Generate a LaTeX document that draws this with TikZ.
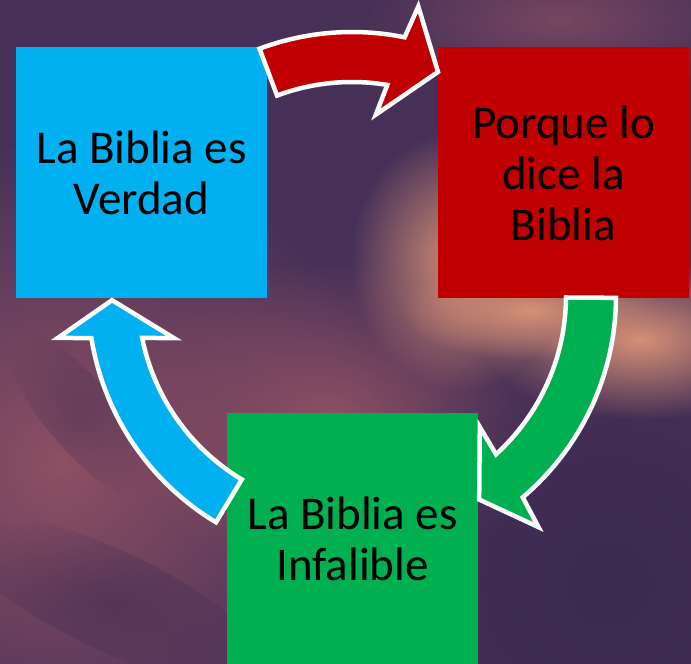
\documentclass[tikz,border=0pt]{standalone}
\usepackage{fontspec}
\setmainfont{Carlito}
\usetikzlibrary{fadings}

\definecolor{verdadblue}{RGB}{0,176,240}
\definecolor{bibliared}{RGB}{192,0,0}
\definecolor{infalgreen}{RGB}{0,176,80}
\definecolor{skydark}{RGB}{70,48,88}
\definecolor{skydeep}{RGB}{60,42,80}
\definecolor{skymauve}{RGB}{142,80,100}
\definecolor{skypeach}{RGB}{214,144,118}

\tikzfading[name=softblob, inner color=transparent!0, outer color=transparent!100]

\tikzset{
  box/.style={minimum width=251pt, minimum height=251pt, inner sep=0pt,
    align=center, font=\fontsize{47}{51}\selectfont},
  cyclearrow/.style={draw=white, line width=4.5pt, line join=miter},
  blob/.style={path fading=softblob},
}

\begin{document}
\begin{tikzpicture}[x=1pt, y=1pt]
    \clip (0,0) rectangle (691,664);

    % cloudy background
    \fill[skydark] (0,0) rectangle (691,664);
    \fill[skymauve, blob] (60,200) ellipse (330 and 330);
    \fill[skymauve, blob] (330,244) ellipse (220 and 160);
    \fill[skymauve, blob, opacity=0.7] (560,644) ellipse (200 and 80);
    \fill[skydeep, blob] (610,80) ellipse (260 and 260);
    \fill[skydeep, blob, opacity=0.5, rotate around={-25:(110,64)}] (110,64) ellipse (170 and 50);
    \fill[skydeep, blob, opacity=0.4, rotate around={-50:(80,250)}] (80,250) ellipse (110 and 35);
    \fill[skypeach, blob] (460,404) ellipse (110 and 130);
    \fill[skypeach, blob] (640,324) ellipse (160 and 80);
    \fill[skypeach, blob] (530,354) ellipse (130 and 50);

    % boxes
    \node[box, fill=verdadblue] (verdad) at (141.5,491) {La Biblia es\\Verdad};
    \node[box, fill=bibliared] (dice) at (563.5,491) {Porque lo\\dice la\\Biblia};
    \node[box, fill=infalgreen] (infalible) at (352.5,125.5) {La Biblia es\\Infalible};

    % arrows round the centre
    \coordinate (centre) at (352,368);
    \begin{scope}[shift={(centre)}]
        \draw[cyclearrow, fill=bibliared] (110.5:264) arc[start angle=110.5, end angle=78.5, radius=264]
            -- (77.1:297) -- (69:240) -- (82.5:183) -- (80.5:214)
            arc[start angle=80.5, end angle=110.5, radius=214] -- cycle;
        \draw[cyclearrow, fill=infalgreen] (-0.4:264) arc[start angle=-0.4, end angle=-49.7, radius=264]
            -- (-51.1:297) -- (-58:240) -- (-45.7:183) -- (-47.7:214)
            arc[start angle=-47.7, end angle=-0.4, radius=214] -- cycle;
        \draw[cyclearrow, fill=verdadblue] (239:264) arc[start angle=239, end angle=189.2, radius=264]
            -- (188.1:297) -- (181:240) -- (193.3:183) -- (191.3:214)
            arc[start angle=191.3, end angle=239, radius=214] -- cycle;
    \end{scope}
\end{tikzpicture}
\end{document}
